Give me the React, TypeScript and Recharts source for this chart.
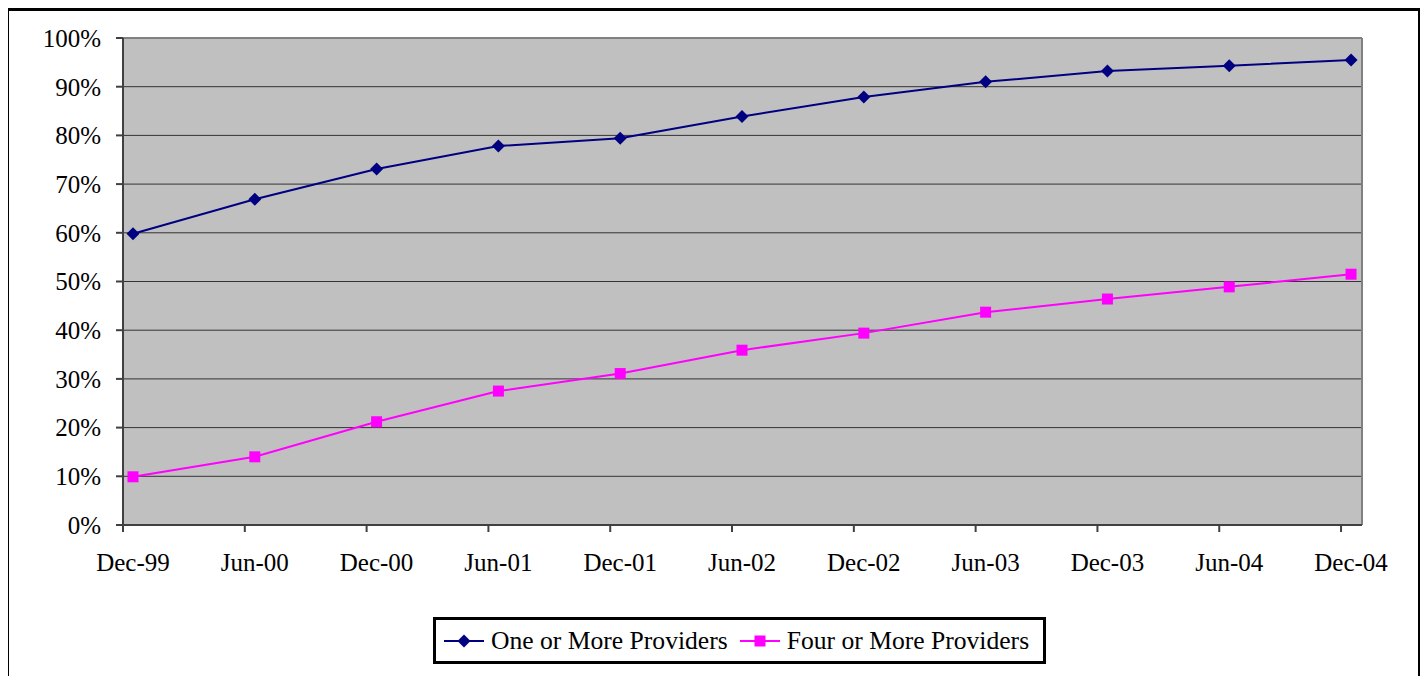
import React from "react";
import {
    LineChart,
    Line,
    XAxis,
    YAxis,
    CartesianGrid,
    Legend,
    ReferenceLine,
    Symbols,
} from "recharts";

const categories = [
    "Dec-99",
    "Jun-00",
    "Dec-00",
    "Jun-01",
    "Dec-01",
    "Jun-02",
    "Dec-02",
    "Jun-03",
    "Dec-03",
    "Jun-04",
    "Dec-04",
];
const oneOrMore = [59.8, 66.9, 73.1, 77.8, 79.4, 83.9, 87.9, 91.0, 93.2, 94.3, 95.5];
const fourOrMore = [9.9, 14.0, 21.2, 27.5, 31.1, 35.9, 39.4, 43.7, 46.4, 48.9, 51.5];
const yTicks = [0, 10, 20, 30, 40, 50, 60, 70, 80, 90, 100];

const data = categories.map((label, i) => ({
    idx: i,
    label,
    one: oneOrMore[i],
    four: fourOrMore[i],
}));

// excel puts the tick marks a little left of the points
const tickShift = -0.082;
const xDomain = [tickShift, 10.09];
const labelTicks = categories.map((_, i) => i);
const markTicks = categories.map((_, i) => i + tickShift);

const FONT = "'Liberation Serif', 'Times New Roman', serif";
const NAVY = "#000080";
const MAGENTA = "#FF00FF";
const AXIS = "#404040";

const diamondDot = (props: any) => {
    const { cx, cy, index } = props;
    const r = 6.5;
    return (
        <path
            key={`dm-${index}`}
            d={`M${cx},${cy - r}L${cx + r},${cy}L${cx},${cy + r}L${cx - r},${cy}Z`}
            fill={NAVY}
        />
    );
};

const squareDot = (props: any) => {
    const { cx, cy, index } = props;
    return (
        <Symbols key={`sq-${index}`} cx={cx} cy={cy} type="square" size={121} fill={MAGENTA} />
    );
};

// empty tick so only the tick line is drawn
const NoLabel = () => <g />;

function LegendItem({ color, shape, label }: any) {
    return (
        <div style={legendItemStyle}>
            <svg width={40} height={20} style={{ marginRight: 7 }}>
                <line x1={0} y1={10} x2={40} y2={10} stroke={color} strokeWidth={2} />
                {shape === "diamond" ? (
                    <path d="M20,3.5L26.5,10L20,16.5L13.5,10Z" fill={color} />
                ) : (
                    <rect x={14.5} y={4.5} width={11} height={11} fill={color} />
                )}
            </svg>
            <span>{label}</span>
        </div>
    );
}

const renderLegend = () => (
    <div style={legendBoxStyle}>
        <LegendItem color={NAVY} shape="diamond" label="One or More Providers" />
        <LegendItem color={MAGENTA} shape="square" label="Four or More Providers" />
    </div>
);

export default function App() {
    return (
        <div style={frameStyle}>
            <LineChart
                width={1409}
                height={670}
                data={data}
                margin={{ top: 27, right: 56, left: 0, bottom: 105 }}
                style={{ fontFamily: FONT }}
            >
                <CartesianGrid vertical={false} fill="#C0C0C0" stroke="#333" />
                <XAxis
                    dataKey="idx"
                    type="number"
                    domain={xDomain}
                    allowDataOverflow
                    ticks={markTicks}
                    tick={NoLabel}
                    tickSize={7}
                    height={1}
                    interval={0}
                    tickLine={{ stroke: AXIS, strokeWidth: 2 }}
                    axisLine={{ stroke: AXIS, strokeWidth: 2 }}
                />
                <XAxis
                    xAxisId="labels"
                    dataKey="idx"
                    type="number"
                    domain={xDomain}
                    allowDataOverflow
                    ticks={labelTicks}
                    tickFormatter={(v: number) => categories[v]}
                    tickLine={false}
                    axisLine={false}
                    tickSize={0}
                    tickMargin={27}
                    height={50}
                    interval={0}
                    tick={{ fill: "#000", fontSize: 25, fontFamily: FONT }}
                />
                <YAxis
                    domain={[0, 100]}
                    ticks={yTicks}
                    interval={0}
                    width={114}
                    tickSize={7}
                    tickMargin={15}
                    tickFormatter={(v: number) => `${v}%`}
                    tick={{ fill: "#000", fontSize: 25, fontFamily: FONT }}
                    tickLine={{ stroke: AXIS, strokeWidth: 2 }}
                    axisLine={{ stroke: AXIS, strokeWidth: 2 }}
                />
                <ReferenceLine y={100} stroke="#808080" strokeWidth={2} />
                <ReferenceLine x={xDomain[1]} stroke="#808080" strokeWidth={2} />
                <Legend
                    layout="horizontal"
                    verticalAlign="middle"
                    align="center"
                    content={renderLegend}
                    wrapperStyle={{ left: 424, top: 606, width: 613, height: 47 }}
                />
                <Line
                    type="linear"
                    dataKey="one"
                    stroke={NAVY}
                    strokeWidth={2}
                    dot={diamondDot}
                    isAnimationActive={false}
                />
                <Line
                    type="linear"
                    dataKey="four"
                    stroke={MAGENTA}
                    strokeWidth={2}
                    dot={squareDot}
                    isAnimationActive={false}
                />
            </LineChart>
        </div>
    );
}

const frameStyle: React.CSSProperties = {
    marginLeft: -2,
    width: 1409,
    height: 680,
    border: "3px solid #000",
    borderBottom: "none",
    background: "#fff",
};

const legendBoxStyle: React.CSSProperties = {
    boxSizing: "border-box",
    width: 613,
    height: 47,
    border: "3px solid #000",
    background: "#fff",
    display: "flex",
    alignItems: "center",
    paddingLeft: 8,
    fontFamily: FONT,
    fontSize: 25.6,
    color: "#000",
};

const legendItemStyle: React.CSSProperties = {
    display: "flex",
    alignItems: "center",
    marginRight: 12,
    whiteSpace: "nowrap",
};
